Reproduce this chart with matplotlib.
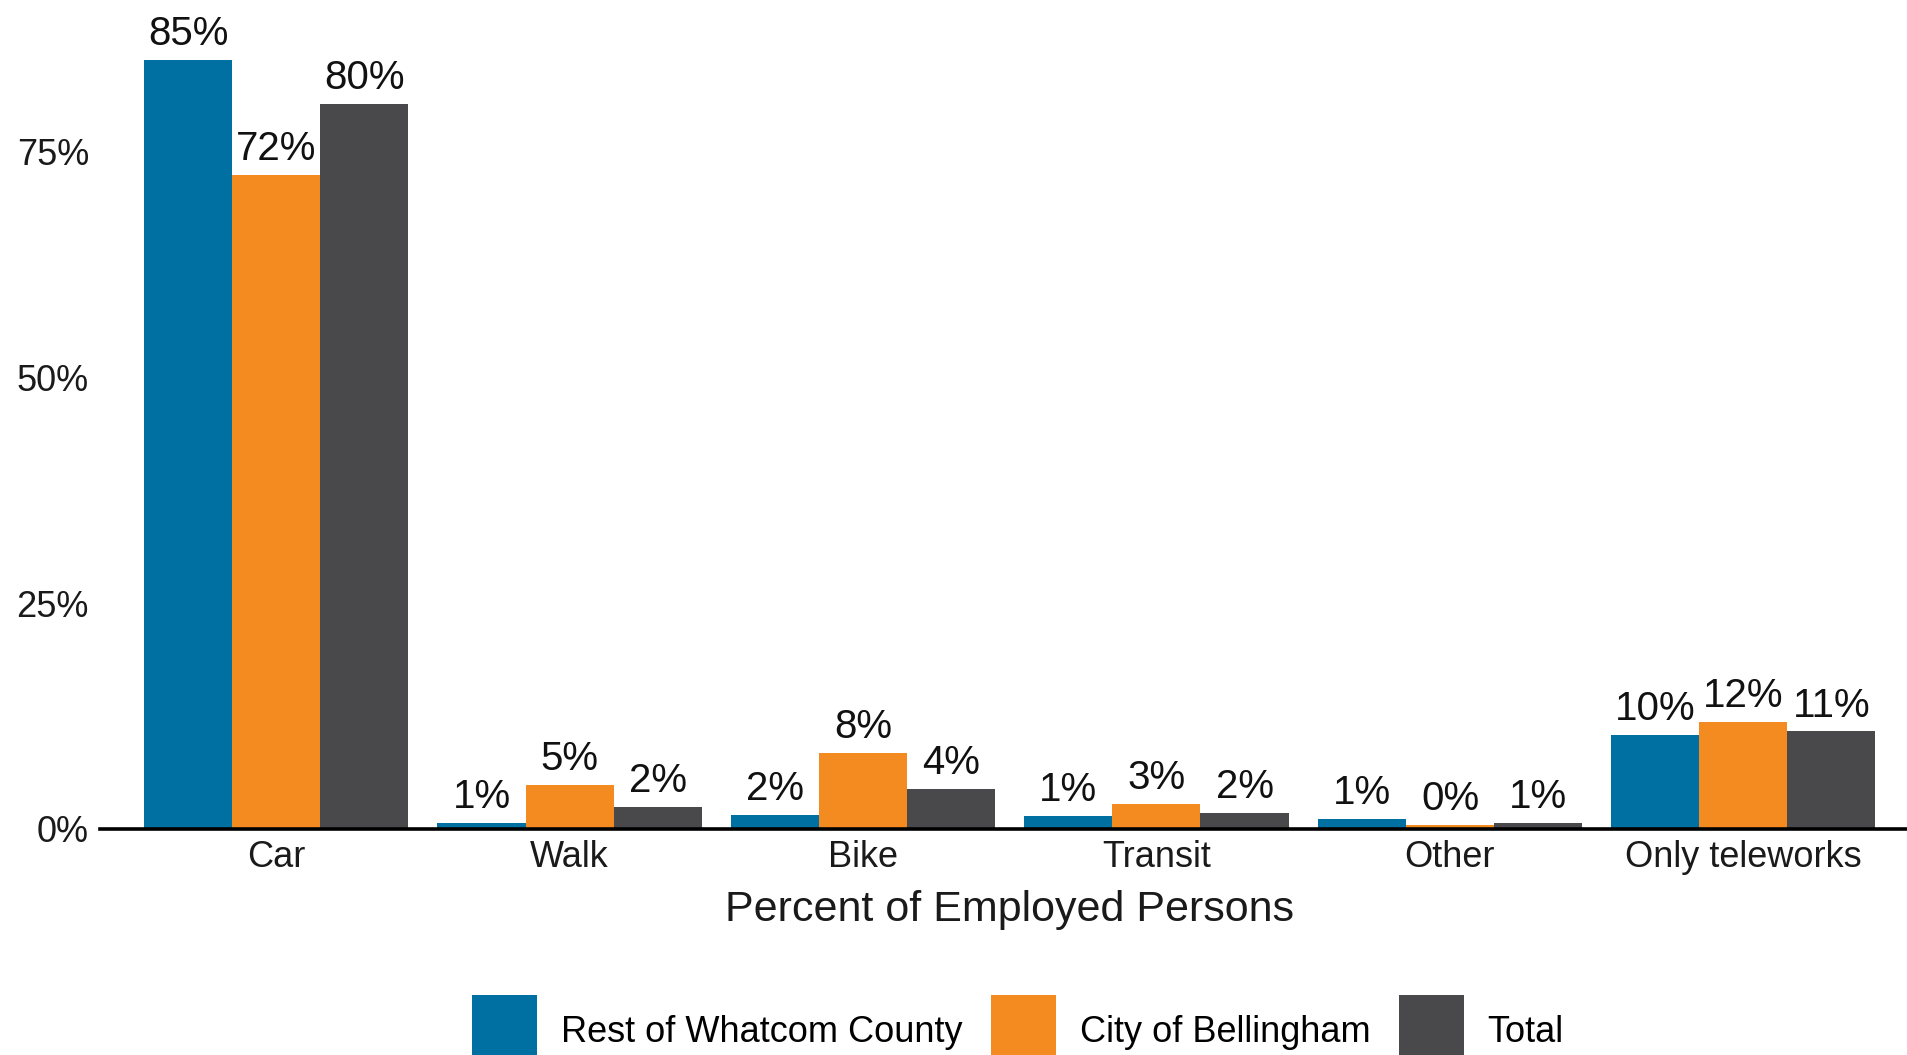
import matplotlib
matplotlib.use("Agg")
import matplotlib.pyplot as plt
import numpy as np
from matplotlib.patches import Patch

plt.rcParams['font.family'] = ['Liberation Sans', 'DejaVu Sans']

categories = ["Car", "Walk", "Bike", "Transit", "Other", "Only teleworks"]
series_names = ["Rest of Whatcom County", "City of Bellingham", "Total"]
rest_of_county = [85.2, 0.7, 1.6, 1.45, 1.1, 10.4]
bellingham = [72.4, 4.9, 8.45, 2.8, 0.4, 11.8]
total = [80.3, 2.4, 4.4, 1.8, 0.7, 10.8]
ytick_values = [0, 25, 50, 75]
ytick_labels = ["0%", "25%", "50%", "75%"]
colors = ["#006FA1", "#F48B21", "#49494B"]

W, H = 1908, 1055
fig = plt.figure(figsize=(W / 100, H / 100), dpi=100)
ax = fig.add_axes([100 / W, (H - 829) / H, 1 - 100 / W, 829 / H])

x = np.arange(len(categories))
bw = 0.3
for i, (vals, name, col) in enumerate(zip([rest_of_county, bellingham, total], series_names, colors)):
    bars = ax.bar(x + (i - 1) * bw, vals, width=bw, color=col, label=name, zorder=2)
    ax.bar_label(bars, labels=[f"{round(v)}%" for v in vals], padding=5, fontsize=29, color="#111111")

ax.set_xlim(-0.6, (W - 277) / 293.3)
ax.set_ylim(0, 91.8)
ax.set_yticks(ytick_values)
ax.set_yticklabels(ytick_labels)
ax.set_xticks(x)
ax.set_xticklabels(categories)
ax.tick_params(axis='both', length=0, labelsize=26, colors="#1a1a1a")
ax.tick_params(axis='y', pad=8)
ax.tick_params(axis='x', pad=8)
for s in ["top", "right", "left"]:
    ax.spines[s].set_visible(False)
ax.spines["bottom"].set_linewidth(2.6)
ax.spines["bottom"].set_color("black")
ax.spines["bottom"].set_zorder(3)

ax.set_xlabel("Percent of Employed Persons", fontsize=31, color="#1a1a1a")
ax.xaxis.label.set_va("center")
ax.xaxis.set_label_coords((1010 - 100) / (W - 100), -(910 - 829) / 829)

handles = [Patch(facecolor=c, edgecolor="none") for c in colors]
fig.legend(handles, series_names, loc="upper center",
           bbox_to_anchor=(1018 / W, 1 - 995 / H), ncol=3, frameon=False,
           fontsize=26, handlelength=1.8, handleheight=2.7, handletextpad=0.65,
           columnspacing=0.8, borderpad=0, borderaxespad=0)

fig.savefig("out.png", dpi=100)
